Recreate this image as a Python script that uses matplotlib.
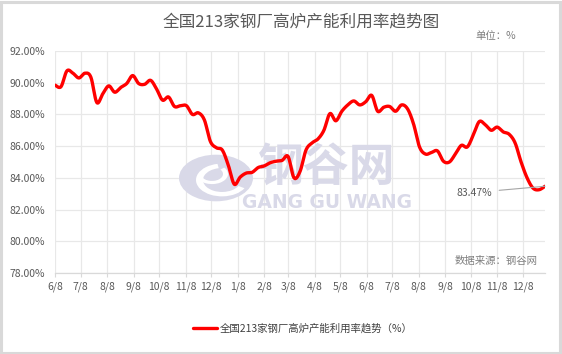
import numpy as np
import pandas as pd
import matplotlib
matplotlib.use("Agg")
import matplotlib.pyplot as plt
import matplotlib.dates as mdates
from matplotlib.patches import Rectangle, Circle, Wedge

plt.rcParams['font.family'] = ['Noto Sans CJK SC', 'DejaVu Sans']

# ---------------- data ----------------
title = "全国213家钢厂高炉产能利用率趋势图"
series_name = "全国213家钢厂高炉产能利用率趋势（%）"
unit_text = "单位：%"
source_text = "数据来源：钢谷网"
start_date = "2018-06-08"
values = [
    89.85, 89.75, 90.75, 90.60, 90.30, 90.60, 90.35, 88.75, 89.30, 89.80,
    89.40, 89.70, 89.95, 90.45, 89.95, 89.90, 90.15, 89.60, 88.90, 89.10,
    88.50, 88.55, 88.55, 88.00, 88.10, 87.65, 86.30, 85.90, 85.75, 84.80,
    83.60, 84.05, 84.30, 84.35, 84.65, 84.75, 84.95, 85.05, 85.10, 85.35,
    84.00, 84.40, 85.75, 86.20, 86.45, 87.00, 88.05, 87.60, 88.20, 88.60,
    88.85, 88.60, 88.80, 89.20, 88.20, 88.45, 88.50, 88.20, 88.60, 88.35,
    87.40, 85.95, 85.50, 85.60, 85.70, 85.05, 85.00, 85.50, 86.05, 85.95,
    86.70, 87.55, 87.35, 87.00, 87.20, 86.90, 86.75, 86.20, 85.00, 84.00,
    83.35, 83.25, 83.47,
]
dates = pd.date_range(start_date, periods=len(values), freq="7D")
tick_dates = pd.date_range(start_date, periods=19, freq=pd.DateOffset(months=1))
tick_labels = ["6/8", "7/8", "8/8", "9/8", "10/8", "11/8", "12/8", "1/8", "2/8",
               "3/8", "4/8", "5/8", "6/8", "7/8", "8/8", "9/8", "10/8", "11/8", "12/8"]
y_ticks = [78, 80, 82, 84, 86, 88, 90, 92]
last_label = "83.47%"

# ---------------- smoothing (Catmull-Rom, like Excel smoothed line) ----------------
xn = mdates.date2num(dates.to_pydatetime())
yv = np.asarray(values, dtype=float)
P = np.column_stack([xn, yv])
Pp = np.vstack([P[0], P, P[-1]])
curve = []
for i in range(1, len(Pp) - 2):
    p0, p1, p2, p3 = Pp[i - 1], Pp[i], Pp[i + 1], Pp[i + 2]
    for t in np.linspace(0, 1, 16, endpoint=False):
        t2, t3 = t * t, t * t * t
        pt = 0.5 * ((2 * p1) + (-p0 + p2) * t + (2 * p0 - 5 * p1 + 4 * p2 - p3) * t2
                    + (-p0 + 3 * p1 - 3 * p2 + p3) * t3)
        curve.append(pt)
curve.append(P[-1])
curve = np.array(curve)

# ---------------- figure ----------------
W, H = 562, 354
fig = plt.figure(figsize=(W / 100, H / 100), dpi=100)
fig.patch.set_facecolor("white")
fig.patches.append(Rectangle((1 / W, 1 / H), 1 - 3 / W, 1 - 3 / H, transform=fig.transFigure,
                             facecolor="none", edgecolor="#d9d9d9", linewidth=2.2, zorder=0))

L, R, T, B = 55, 545, 51, 273
ax = fig.add_axes([L / W, 1 - B / H, (R - L) / W, (B - T) / H])
ax.set_facecolor("none")

grid_c = "#e8e8e8"
text_c = "#595959"

def fpos(x, y):
    return (x / W, 1 - y / H)

# watermark (inside axes drawing order: above grid, below line)
wm_c = "#d9d9e8"
cx, cy = 216, 178
ax.add_patch(Circle(fpos(cx, cy), 37 / W, transform=fig.transFigure, clip_on=False,
                    facecolor=wm_c, edgecolor="none", zorder=1))
ax.add_patch(Wedge(fpos(cx + 6, cy + 2), 26 / W, 100, 330, width=7 / W, clip_on=False,
                   transform=fig.transFigure, facecolor="white", edgecolor="none", zorder=1.1))
ax.add_patch(Wedge(fpos(cx - 4, cy - 4), 16 / W, 200, 40, width=5 / W, clip_on=False,
                   transform=fig.transFigure, facecolor="white", edgecolor="none", zorder=1.1))
ax.text(*fpos(327, 168), "钢谷网", fontsize=33, color=wm_c, ha="center", va="center",
        fontweight="bold", transform=fig.transFigure, zorder=1)
ax.text(*fpos(327, 202), "GANG GU WANG", fontsize=13.5, color=wm_c, ha="center",
        va="center", fontweight="bold", family=["DejaVu Sans"], transform=fig.transFigure,
        zorder=1)

ax.plot(curve[:, 0], curve[:, 1], color="#ff0000", linewidth=2.4, solid_capstyle="round",
        zorder=3, label=series_name)

ax.set_xlim(xn[0], xn[-1])
ax.set_ylim(78, 92)
ax.set_yticks(y_ticks)
ax.set_yticklabels([f"{v:.2f}%" for v in y_ticks])
ax.set_xticks(mdates.date2num(tick_dates.to_pydatetime()))
ax.set_xticklabels(tick_labels)
ax.grid(True, color=grid_c, linewidth=0.9, zorder=0)
ax.set_axisbelow(True)
for s in ["top", "right", "left"]:
    ax.spines[s].set_visible(False)
ax.spines["bottom"].set_color("#d9d9d9")
ax.spines["bottom"].set_linewidth(0.9)
ax.tick_params(axis="y", length=0, pad=7, labelsize=7.5, labelcolor=text_c)
ax.tick_params(axis="x", length=3, color="#d9d9d9", pad=3, labelsize=7.5, labelcolor=text_c)

# annotation for last value
ax.annotate(last_label, xy=(xn[-1], yv[-1]), xytext=(-38, -4.5), textcoords="offset points",
            ha="right", va="center", fontsize=7.5, color=text_c,
            arrowprops=dict(arrowstyle="-", color="#a6a6a6", linewidth=0.8,
                            shrinkA=3, shrinkB=0), zorder=4)

fig.text(301 / W, 1 - 22 / H, title, fontsize=12, color=text_c, ha="center", va="center")
fig.text(516 / W, 1 - 36 / H, unit_text, fontsize=7.5, color="#7f7f7f", ha="right", va="center")
fig.text(538 / W, 1 - 261 / H, source_text, fontsize=7.5, color="#7f7f7f", ha="right", va="center")

fig.legend(loc="center", bbox_to_anchor=(303 / W, 1 - 328 / H), frameon=False, fontsize=7.5,
           handlelength=2.3, handletextpad=0.3, labelcolor="#404040")

fig.savefig("out.png", dpi=100, facecolor="white")
